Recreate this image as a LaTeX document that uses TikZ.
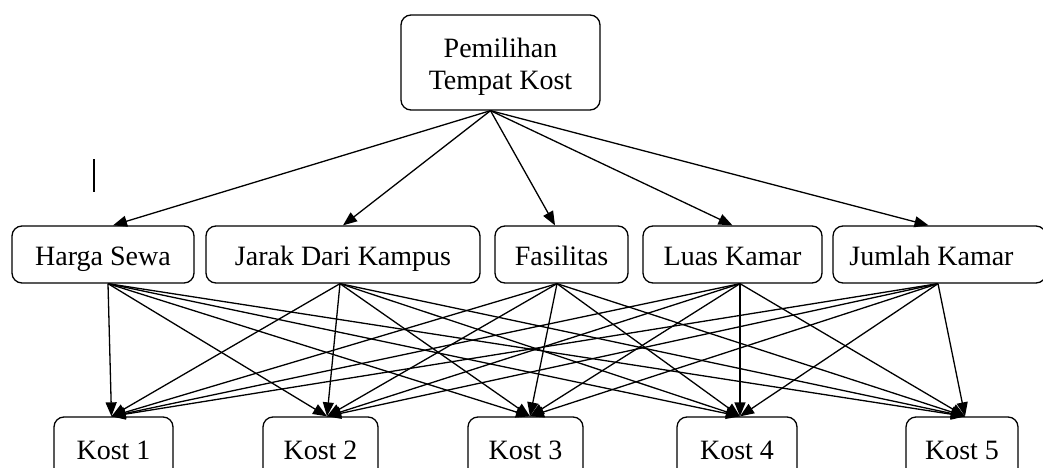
\documentclass[tikz,border=0pt]{standalone}
\usepackage{fontspec}
\setmainfont{Liberation Serif}
\usetikzlibrary{arrows.meta,calc}
\begin{document}
\begin{tikzpicture}[x=1pt,y=-1pt,
  box/.style={draw,line width=1.3pt,rounded corners=10pt,inner sep=0pt,align=center,
    font=\fontsize{28}{32}\selectfont},
  one/.style={text height=23pt,text depth=2pt},
  arr/.style={line width=1.3pt,-{Triangle[length=14pt,width=11pt]}}]
\useasboundingbox (0,0) rectangle (1043,468);
\clip (0,0) rectangle (1043,468);
% top
\node[box,minimum width=199pt,minimum height=95pt] (top) at (500.5,62.5) {\rule{0pt}{28pt}Pemilihan\\Tempat Kost};
% criteria
\node[box,one,minimum width=182pt,minimum height=57pt] (hs) at (103,254.5) {Harga Sewa};
\node[box,one,minimum width=274pt,minimum height=57pt] (jk) at (343,254.5) {Jarak Dari Kampus};
\node[box,one,minimum width=133pt,minimum height=57pt] (fs) at (561.5,254.5) {Fasilitas};
\node[box,one,minimum width=179pt,minimum height=57pt] (lk) at (732.5,254.5) {Luas Kamar};
\node[box,one,minimum width=213pt,minimum height=57pt] (jm) at (939.5,254.5) {Jumlah Kamar\hspace*{16pt}};
% alternatives
\node[box,one,minimum width=119pt,minimum height=63pt] (k1) at (113.5,448.5) {Kost 1};
\node[box,one,minimum width=115pt,minimum height=63pt] (k2) at (320.5,448.5) {Kost 2};
\node[box,one,minimum width=115pt,minimum height=63pt] (k3) at (525.5,448.5) {Kost 3};
\node[box,one,minimum width=120pt,minimum height=63pt] (k4) at (737,448.5) {Kost 4};
\node[box,one,minimum width=112pt,minimum height=63pt] (k5) at (962,448.5) {Kost 5};
% connection points
\coordinate (top-o) at ($(top.south)+(-10,0)$);
\coordinate (hs-i) at ($(hs.north)+(10,0)$);
\coordinate (jk-i) at (jk.north);
\coordinate (fs-i) at ($(fs.north)+(-6.5,0)$);
\coordinate (lk-i) at (lk.north);
\coordinate (jm-i) at ($(jm.north)+(-11,0)$);
\coordinate (hs-o) at ($(hs.south)+(5,0)$);
\coordinate (jk-o) at ($(jk.south)+(-3,0)$);
\coordinate (fs-o) at ($(fs.south)+(-4.5,0)$);
\coordinate (lk-o) at ($(lk.south)+(7.5,0)$);
\coordinate (jm-o) at ($(jm.south)+(-1.5,0)$);
\coordinate (k1-i) at ($(k1.north)+(-2,0)$);
\coordinate (k2-i) at ($(k2.north)+(6.5,0)$);
\coordinate (k3-i) at ($(k3.north)+(4.5,0)$);
\coordinate (k4-i) at ($(k4.north)+(3,0)$);
\coordinate (k5-i) at ($(k5.north)+(3,0)$);
% connectors
\foreach \c in {hs,jk,fs,lk,jm}
  \draw[arr] (top-o) -- (\c-i);
\foreach \s in {hs,jk,fs,lk,jm}
  \foreach \t in {k1,k2,k3,k4,k5}
    \draw[arr] (\s-o) -- (\t-i);
% stray cursor mark
\draw[line width=1.5pt] (94,159) -- (94,192);
\end{tikzpicture}
\end{document}
